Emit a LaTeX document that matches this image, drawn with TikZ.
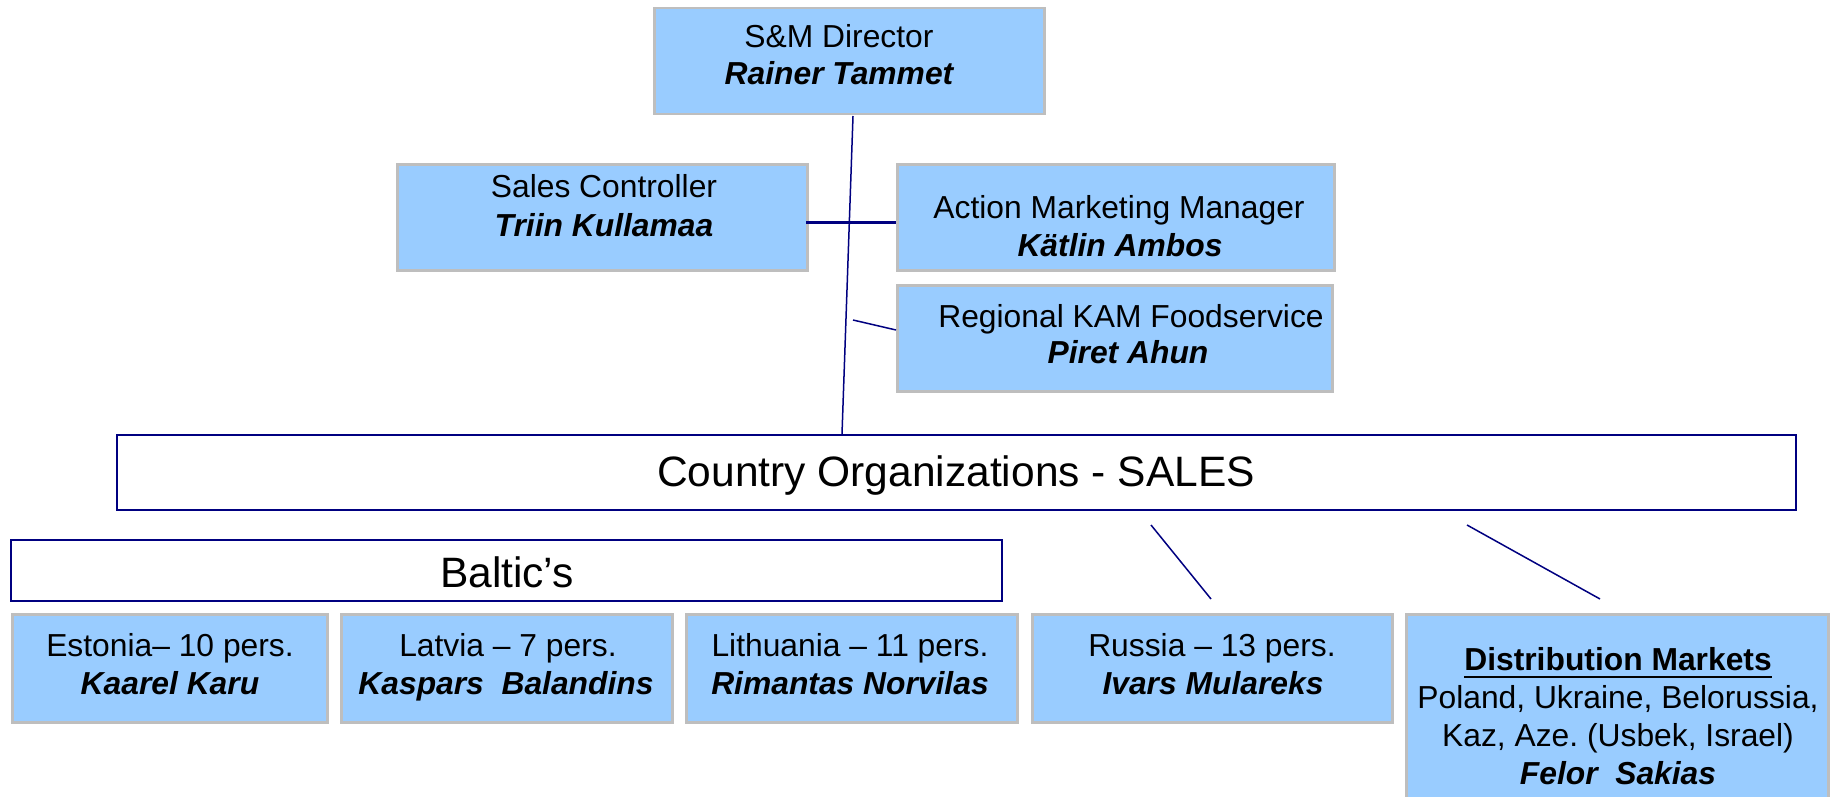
\documentclass[tikz,border=0pt]{standalone}
\usepackage{fontspec}
\setmainfont{Liberation Sans}
\frenchspacing
\definecolor{boxblue}{HTML}{99CCFF}
\definecolor{boxgray}{HTML}{BEBEBE}
\definecolor{navy}{HTML}{000080}

\begin{document}
\begin{tikzpicture}[x=1pt,y=-1pt,
  bluebox/.style={draw=boxgray, line width=2.5pt, fill=boxblue, rectangle, inner sep=0pt, anchor=north west},
  framebox/.style={draw=navy, line width=2pt, fill=white, rectangle, inner sep=0pt, anchor=north west},
  txt/.style={anchor=base, inner sep=0pt, font=\fontsize{31.8}{38}\selectfont},
  persontxt/.style={txt, font=\fontsize{31.8}{38}\selectfont\bfseries\itshape},
  headtxt/.style={txt, font=\fontsize{31.8}{38}\selectfont\bfseries},
  bigtxt/.style={anchor=base, inner sep=0pt, font=\fontsize{42.5}{50}\selectfont},
  link/.style={draw=navy, line width=1.5pt},
  boldlink/.style={draw=navy, line width=3pt}]

\useasboundingbox (0,0) rectangle (1831,797);

% management boxes
\node[bluebox, minimum width=390pt, minimum height=106pt] (sm) at (653,7) {};
\node[bluebox, minimum width=410pt, minimum height=106pt] (sc) at (396,163) {};
\node[bluebox, minimum width=437pt, minimum height=106pt] (am) at (896,163) {};
\node[bluebox, minimum width=435pt, minimum height=106pt] (rk) at (896,284) {};

% organisation frames
\node[framebox, minimum width=1679pt, minimum height=75pt] (co) at (116,434) {};
\node[framebox, minimum width=991pt, minimum height=61pt] (bt) at (10,539) {};

% country boxes
\node[bluebox, minimum width=315pt, minimum height=108pt] (ee) at (11,613) {};
\node[bluebox, minimum width=331pt, minimum height=108pt] (lv) at (340,613) {};
\node[bluebox, minimum width=331pt, minimum height=108pt] (lt) at (685,613) {};
\node[bluebox, minimum width=360pt, minimum height=108pt] (ru) at (1031,613) {};
\node[bluebox, minimum width=422pt, minimum height=192pt] (dm) at (1405,613) {};

% texts
\node[txt] (sm-1) at (839,48) {S\&M Director};
\node[persontxt] (sm-2) at (839,85) {Rainer Tammet};
\node[txt] (sc-1) at (604,197) {Sales Controller};
\node[persontxt] (sc-2) at (604,236) {Triin Kullamaa};
\node[txt] (am-1) at (1119,218) {Action Marketing Manager};
\node[persontxt] (am-2) at (1120,256) {Kätlin Ambos};
\node[txt] (rk-1) at (1131,327) {Regional KAM Foodservice};
\node[persontxt] (rk-2) at (1128,363) {Piret Ahun};

\node[bigtxt] (co-1) at (956,486) {Country Organizations - SALES};
\node[bigtxt] (bt-1) at (507,587) {Baltic’s};

\node[txt] (ee-1) at (170,656) {Estonia– 10 pers.};
\node[persontxt] (ee-2) at (170,694) {Kaarel Karu};
\node[txt] (lv-1) at (508,656) {Latvia – 7 pers.};
\node[persontxt] (lv-2) at (506,694) {Kaspars\ \ Balandins};
\node[txt] (lt-1) at (850,656) {Lithuania – 11 pers.};
\node[persontxt] (lt-2) at (850,694) {Rimantas Norvilas};
\node[txt] (ru-1) at (1212,656) {Russia – 13 pers.};
\node[persontxt] (ru-2) at (1213,694) {Ivars Mulareks};
\node[headtxt] (dm-1) at (1618,670) {Distribution Markets};
\draw[line width=2.8pt] ([yshift=-7pt]dm-1.base west) -- ([yshift=-7pt]dm-1.base east);
\node[txt] (dm-2) at (1618,708) {Poland, Ukraine, Belorussia,};
\node[txt] (dm-3) at (1618,746) {Kaz, Aze. (Usbek, Israel)};
\node[persontxt] (dm-4) at (1618,784) {Felor\ \ Sakias};

% connectors
\coordinate (smfoot) at (853,116);
\coordinate (cotop) at (842,434);
\coordinate (scout) at (806,222.5);
\coordinate (amin) at (896,222.5);
\coordinate (trunk) at (853,320);
\coordinate (rkin) at (896,330);
\coordinate (rutop) at (1151,525);
\coordinate (ruin) at (1211,599);
\coordinate (dmtop) at (1467,525);
\coordinate (dmin) at (1600,599);

\draw[boldlink] (scout) -- (amin);
\draw[link] (smfoot) -- (cotop);
\draw[link] (trunk) -- (rkin);
\draw[link] (rutop) -- (ruin);
\draw[link] (dmtop) -- (dmin);
\end{tikzpicture}
\end{document}
